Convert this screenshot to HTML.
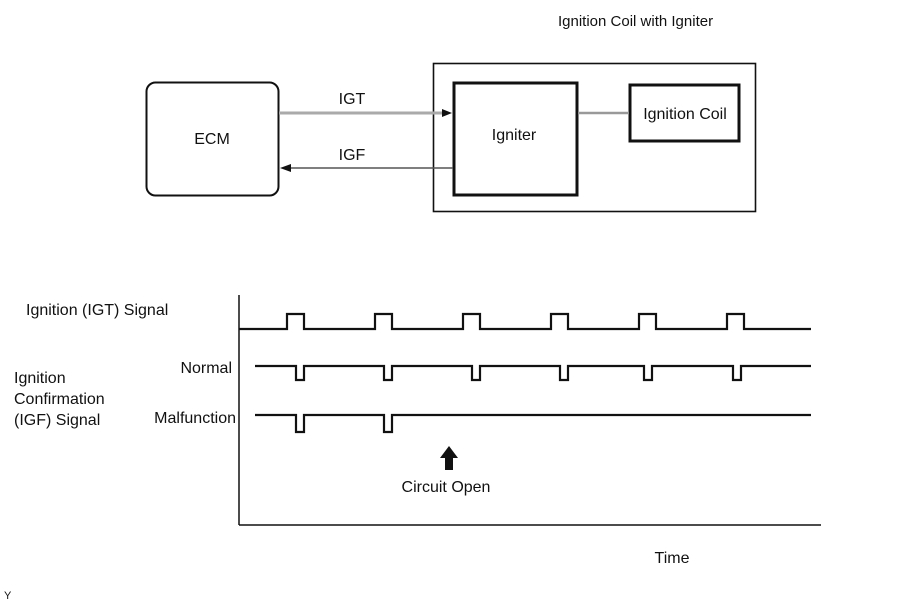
<!DOCTYPE html>
<html><head><meta charset="utf-8"><style>
html,body{margin:0;padding:0;background:#fff;}
svg{display:block;font-family:"Liberation Sans",Arial,sans-serif;}
</style></head><body>
<svg width="909" height="603" viewBox="0 0 909 603" xmlns="http://www.w3.org/2000/svg">
<rect x="0" y="0" width="909" height="603" fill="#fff"/>
<text x="558" y="26" font-size="15" fill="#111">Ignition Coil with Igniter</text>
<rect x="146.5" y="82.5" width="132" height="113" rx="9" fill="none" stroke="#111" stroke-width="2"/>
<text x="212" y="144" font-size="16" text-anchor="middle" fill="#111">ECM</text>
<rect x="433.5" y="63.5" width="322" height="148" fill="none" stroke="#111" stroke-width="1.6"/>
<rect x="454" y="83" width="123" height="112" fill="none" stroke="#111" stroke-width="3"/>
<text x="514" y="140" font-size="16" text-anchor="middle" fill="#111">Igniter</text>
<rect x="630" y="85" width="109" height="56" fill="none" stroke="#111" stroke-width="3"/>
<text x="685" y="119" font-size="16" text-anchor="middle" fill="#111">Ignition Coil</text>
<line x1="578" y1="113" x2="629" y2="113" stroke="#999" stroke-width="2.5"/>
<line x1="279" y1="113" x2="443" y2="113" stroke="#aaa" stroke-width="3"/>
<polygon points="452,113 442,109 442,117" fill="#111"/>
<text x="352" y="104" font-size="16" text-anchor="middle" fill="#111">IGT</text>
<line x1="290" y1="168" x2="453" y2="168" stroke="#555" stroke-width="1.5"/>
<polygon points="280,168 291,164 291,172" fill="#111"/>
<text x="352" y="160" font-size="16" text-anchor="middle" fill="#111">IGF</text>

<line x1="239" y1="295" x2="239" y2="525" stroke="#111" stroke-width="1.5"/>
<line x1="239" y1="525" x2="821" y2="525" stroke="#111" stroke-width="1.5"/>
<text x="26" y="315" font-size="16" fill="#111">Ignition (IGT) Signal</text>
<text x="14" y="383" font-size="16" fill="#111">Ignition</text>
<text x="14" y="404" font-size="16" fill="#111">Confirmation</text>
<text x="14" y="425" font-size="16" fill="#111">(IGF) Signal</text>
<text x="232" y="373" font-size="16" text-anchor="end" fill="#111">Normal</text>
<text x="236" y="423" font-size="16" text-anchor="end" fill="#111">Malfunction</text>

<path d="M239 329 H287 V314 H304 V329 H375 V314 H392 V329 H463 V314 H480 V329 H551 V314 H568 V329 H639 V314 H656 V329 H727 V314 H744 V329 H811" fill="none" stroke="#111" stroke-width="2.2"/>
<path d="M255 366 H296 V380 H304 V366 H384 V380 H392 V366 H472 V380 H480 V366 H560 V380 H568 V366 H644 V380 H652 V366 H733 V380 H741 V366 H811" fill="none" stroke="#111" stroke-width="2.2"/>
<path d="M255 415 H296 V432 H304 V415 H384 V432 H392 V415 H811" fill="none" stroke="#111" stroke-width="2.2"/>
<polygon points="449,446 440,458 445,458 445,470 453,470 453,458 458,458" fill="#111"/>
<text x="446" y="492" font-size="16" text-anchor="middle" fill="#111">Circuit Open</text>
<text x="672" y="563" font-size="16" text-anchor="middle" fill="#111">Time</text>
<text x="4" y="599" font-size="11" fill="#111">Y</text>
</svg>
</body></html>
